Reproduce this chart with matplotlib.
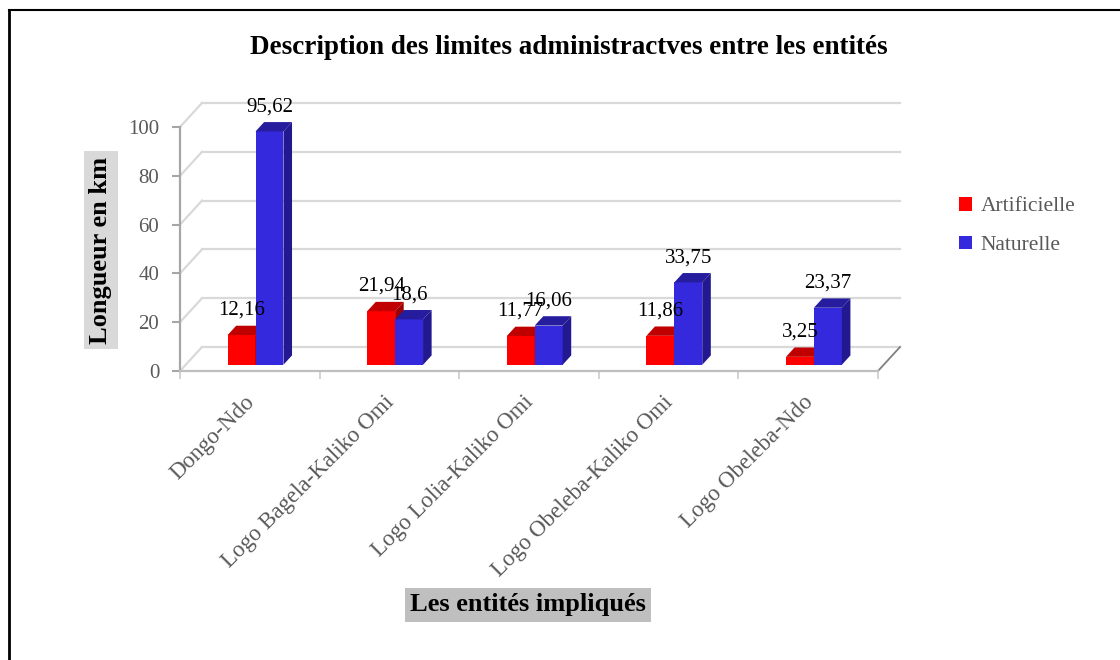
import numpy as np
import matplotlib
matplotlib.use('Agg')
import matplotlib.pyplot as plt
from matplotlib.patches import Polygon, Patch
from matplotlib.lines import Line2D
import matplotlib.transforms as mtransforms

# donnees
entites = ['Dongo-Ndo', 'Logo Bagela-Kaliko Omi', 'Logo Lolia-Kaliko Omi',
           'Logo Obeleba-Kaliko Omi', 'Logo Obeleba-Ndo']
artificielle = [12.16, 21.94, 11.77, 11.86, 3.25]
naturelle = [95.62, 18.6, 16.06, 33.75, 23.37]
yticks = [0, 20, 40, 60, 80, 100]

plt.rcParams['font.family'] = ['Liberation Serif', 'DejaVu Serif']

W, H = 1120, 660
fig = plt.figure(figsize=(W / 100, H / 100), dpi=100)

# axes en pixels : x=-0.5 a 180px, 139.6 px par categorie ; y=0 a 371px, 2.44 px par km
ux, uy = 139.6, 2.44
xlim = (-0.5, 4.75)
ylim = (0, 116)
ax = fig.add_axes([180 / W, (H - 371) / H, (xlim[1] - xlim[0]) * ux / W,
                   (ylim[1] - ylim[0]) * uy / H])
ax.set_xlim(xlim)
ax.set_ylim(ylim)

# profondeur du "3D" (mur du fond)
dx = 22 / ux
dy = 24 / uy
grid_c = '#d9d9d9'
axis_c = '#a6a6a6'

for v in yticks:
    ax.plot([-0.5, -0.5 + dx], [v, v + dy], color=grid_c, lw=1.6, zorder=1)
    ax.plot([-0.5 + dx, 4.5 + dx], [v + dy, v + dy], color=grid_c, lw=1.6, zorder=1)
# bord droit du sol
ax.plot([4.5, 4.5 + dx], [0, dy], color='#808080', lw=1.3, zorder=1)

for s in ['top', 'right']:
    ax.spines[s].set_visible(False)
ax.spines['left'].set_bounds(0, 100)
ax.spines['bottom'].set_bounds(-0.5, 4.5)
ax.spines['left'].set_color(axis_c)
ax.spines['bottom'].set_color('#bfbfbf')
ax.spines['left'].set_linewidth(1.6)
ax.spines['bottom'].set_linewidth(1.6)

ax.set_yticks(yticks)
ax.tick_params(axis='y', length=6, width=1.5, color=axis_c, pad=9,
               labelsize=15, labelcolor='#595959')

ax.set_xticks(np.arange(len(entites)))
ax.set_xticklabels(entites, rotation=45, ha='right', va='top')
ax.set_xticks(np.arange(len(entites) + 1) - 0.5, minor=True)
ax.tick_params(axis='x', which='major', length=0, pad=15, labelsize=16.5,
               labelcolor='#595959')
ax.tick_params(axis='x', which='minor', length=6, width=1.3, color='#d0d0d0')
offset = mtransforms.ScaledTranslation(9 / 100, 0, fig.dpi_scale_trans)
for lab in ax.get_xticklabels():
    lab.set_transform(lab.get_transform() + offset)

# barres 3D
fz, bz = 0.26, 0.39
bw = 0.2
series = [
    (artificielle, -bw, '#ff0000', '#c00000', '#a00000'),
    (naturelle, 0.0, '#3429dd', '#261c9e', '#221890'),
]
z = 3
for i in range(len(entites)):
    for vals, shift, c_front, c_top, c_side in series:
        h = vals[i]
        l = i + shift + fz * dx
        b = fz * dy
        ox, oy = bz * dx, bz * dy
        ax.bar(l, h, width=bw, bottom=b, align='edge', color=c_front,
               edgecolor='none', zorder=z)
        ax.add_patch(Polygon([(l, b + h), (l + bw, b + h), (l + bw + ox, b + h + oy),
                              (l + ox, b + h + oy)], closed=True, color=c_top,
                             lw=0, zorder=z))
        ax.add_patch(Polygon([(l + bw, b), (l + bw, b + h), (l + bw + ox, b + h + oy),
                              (l + bw + ox, b + oy)], closed=True, color=c_side,
                             lw=0, zorder=z))
        z += 1
for i in range(len(entites)):
    for vals, shift, c_front, c_top, c_side in series:
        l = i + shift + fz * dx
        lbl = ('%g' % vals[i]).replace('.', ',')
        ax.annotate(lbl, (l + bw / 2, fz * dy + vals[i]), xytext=(0, 11),
                    textcoords='offset points', ha='center', va='bottom',
                    fontsize=15, color='black', zorder=50)

# titres
fig.text(569 / W, 1 - 48 / H, 'Description des limites administractves entre les entités',
         ha='center', va='center', fontsize=19.5, fontweight='bold')
fig.text(101 / W, 1 - 250 / H, 'Longueur en km', rotation=90, ha='center', va='center',
         fontsize=19, fontweight='bold',
         bbox=dict(facecolor='#d9d9d9', edgecolor='none', pad=4))
fig.text(528 / W, 1 - 605 / H, 'Les entités impliqués', ha='center', va='center',
         fontsize=19, fontweight='bold',
         bbox=dict(facecolor='#bfbfbf', edgecolor='none', pad=4))

# legende
handles = [Patch(facecolor='#ff0000', edgecolor='none'),
           Patch(facecolor='#3429dd', edgecolor='none')]
leg = fig.legend(handles, ['Artificielle', 'Naturelle'], loc='center left',
                 bbox_to_anchor=(940 / W, 1 - 226 / H), frameon=False,
                 handlelength=0.6, handleheight=0.6, handletextpad=0.4,
                 labelspacing=0.9, fontsize=15.5)
for t in leg.get_texts():
    t.set_color('#595959')

# cadre
fig.add_artist(Line2D([8.5 / W, 8.5 / W], [0, 1 - 10 / H], color='black', lw=2))
fig.add_artist(Line2D([8.5 / W, 1], [1 - 10 / H, 1 - 10 / H], color='black', lw=1.5))

fig.savefig('out.png', dpi=100)
